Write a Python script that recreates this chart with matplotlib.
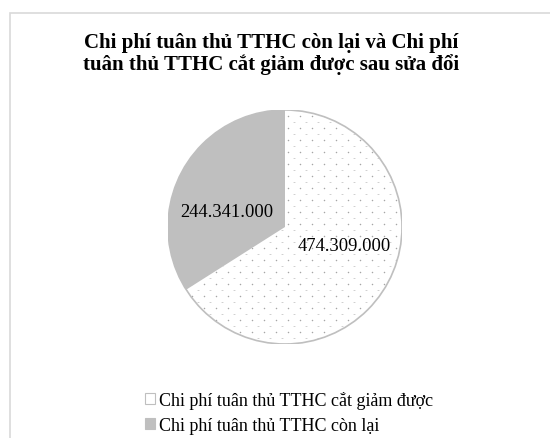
import numpy as np
import matplotlib.pyplot as plt
from matplotlib.patches import Rectangle, Circle

plt.rcParams['font.family'] = ['Liberation Serif', 'DejaVu Serif']

# Dữ liệu
labels = ['Chi phí tuân thủ TTHC cắt giảm được', 'Chi phí tuân thủ TTHC còn lại']
values = [474309000, 244341000]
colors = ['white', '#BFBFBF']
title = 'Chi phí tuân thủ TTHC còn lại và Chi phí\ntuân thủ TTHC cắt giảm được sau sửa đổi'

W, H = 550, 439
fig = plt.figure(figsize=(W / 100, H / 100), dpi=100)

# khung viền của biểu đồ
fig.patches.append(Rectangle((9.5 / W, -0.1), 1.2, 1 - 13.5 / H + 0.1,
                             transform=fig.transFigure, fill=False,
                             edgecolor='#D9D9D9', linewidth=1.2))

# trục tròn: tâm (285, 228), bán kính 117 px
cx, cy, r = 285, 228, 117
ax = fig.add_axes([(cx - r) / W, (H - cy - r) / H, 2 * r / W, 2 * r / H])
wedges, _ = ax.pie(values, colors=colors, startangle=90, counterclock=False,
                   radius=1, wedgeprops=dict(linewidth=0))

# mẫu chấm của phần trắng (cách 12 px ngang, 6 px dọc)
step = 12 / r
gx, gy = np.meshgrid(np.arange(-1.1, 1.1, step), np.arange(-1.1, 1.1, step / 2))
odd = (np.arange(gy.shape[0]) % 2 == 1)[:, None]
gx = gx + np.where(odd, step / 2, 0)
dots = ax.scatter(gx[~odd.ravel()].ravel(), gy[~odd.ravel()].ravel(), s=1.2,
                  color='#A6A6A6', linewidths=0, zorder=2)
dashes = ax.scatter(gx[odd.ravel()].ravel(), gy[odd.ravel()].ravel(), s=1.2, marker='_',
                    color='#D0D0D0', linewidths=0.6, zorder=2)
dots.set_clip_path(wedges[0])
dashes.set_clip_path(wedges[0])

# viền xám bên ngoài
ax.add_patch(Circle((0, 0), 1, fill=False, edgecolor='#BFBFBF', linewidth=1.2, zorder=3))
ax.set_xlim(-1, 1)
ax.set_ylim(-1, 1)
ax.set_aspect('equal')
ax.axis('off')

def fmt(v):
    return f'{v:,}'.replace(',', '.')

ax.text(0.51, -0.16, fmt(values[0]), ha='center', va='center', fontsize=13.3, zorder=4)
ax.text(-0.5, 0.13, fmt(values[1]), ha='center', va='center', fontsize=13.3, zorder=4)

fig.text(271 / W, 1 - 54 / H, title, ha='center', va='center',
         fontsize=15, fontweight='bold', linespacing=1.13)

# chú thích
handles = [Rectangle((0, 0), 1, 1, facecolor=c, edgecolor='#BFBFBF', linewidth=0.8)
           for c in colors]
fig.legend(handles, labels, loc='upper left', bbox_to_anchor=(136 / W, 1 - 383 / H),
           frameon=False, fontsize=13, handlelength=0.55, handleheight=0.55,
           handletextpad=0.2, labelspacing=0.45, borderpad=0)

plt.savefig('out.png', dpi=100)
